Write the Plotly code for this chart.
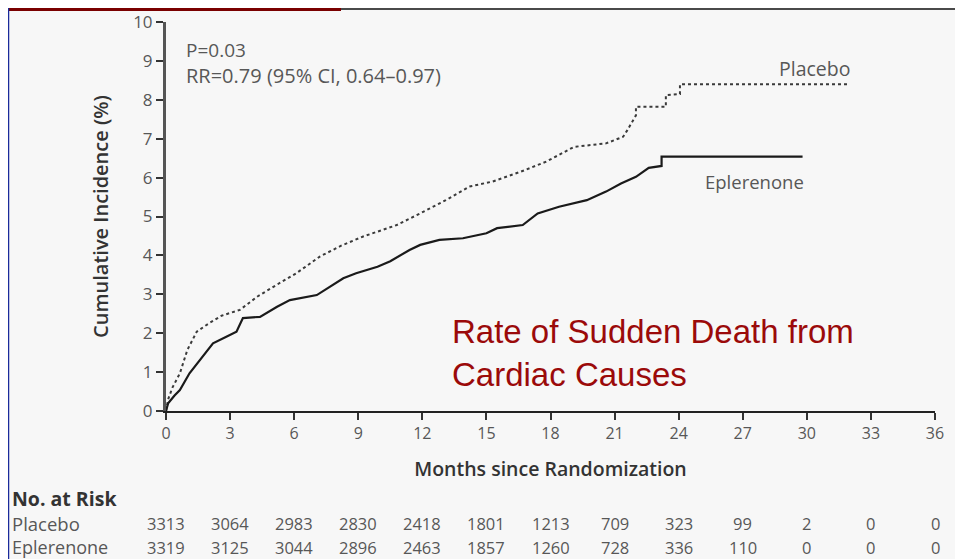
import plotly.graph_objects as go

# ---------------- data ----------------
months_ticks = [0, 3, 6, 9, 12, 15, 18, 21, 24, 27, 30, 33, 36]
y_ticks = [0, 1, 2, 3, 4, 5, 6, 7, 8, 9, 10]

placebo_t = [0, 0.1, 0.3, 0.65, 1.0, 1.44, 2.0, 2.6, 3.46, 4.3, 5.2, 6.1, 7.2, 8.2,
             9.2, 10.0, 10.8, 11.9, 13.1, 14.2, 15.3, 16.6, 17.8, 19.1, 20.6, 21.4,
             21.6, 22.0, 22.0, 23.4, 23.4, 24.06, 24.06, 32.0]
placebo_y = [0, 0.3, 0.6, 0.97, 1.57, 2.04, 2.25, 2.45, 2.6, 2.95, 3.25, 3.54, 3.97, 4.25,
             4.48, 4.62, 4.78, 5.08, 5.42, 5.77, 5.9, 6.15, 6.41, 6.79, 6.88, 7.05,
             7.22, 7.6, 7.82, 7.82, 8.12, 8.15, 8.4, 8.4]

eplerenone_t = [0, 0.1, 0.4, 0.65, 1.1, 1.7, 2.2, 2.8, 3.3, 3.6, 4.4, 5.2, 5.8, 7.06,
                7.7, 8.3, 8.9, 9.9, 10.5, 11.4, 11.9, 12.8, 13.9, 15.0, 15.5, 16.7,
                17.4, 18.4, 19.7, 20.6, 21.3, 22.0, 22.6, 23.2, 23.2, 29.8]
eplerenone_y = [0, 0.2, 0.4, 0.54, 0.97, 1.39, 1.74, 1.9, 2.04, 2.39, 2.42, 2.68, 2.85, 2.98,
                3.2, 3.41, 3.54, 3.71, 3.85, 4.14, 4.27, 4.40, 4.44, 4.57, 4.70, 4.78,
                5.08, 5.25, 5.42, 5.64, 5.85, 6.02, 6.25, 6.30, 6.54, 6.54]

risk_placebo = [3313, 3064, 2983, 2830, 2418, 1801, 1213, 709, 323, 99, 2, 0, 0]
risk_eplerenone = [3319, 3125, 3044, 2896, 2463, 1857, 1260, 728, 336, 110, 0, 0, 0]

# ---------------- layout helpers ----------------
OFF = 8  # page body margin
W, H = 963 - OFF, 559 - OFF
L, R, T, B = 166 - OFF, 28, 22 - OFF, 559 - 411
PW, PH = W - L - R, H - T - B


def px_x(px):
    """page pixel x -> paper coordinate"""
    return (px - OFF - L) / PW


def px_y(py):
    """page pixel y -> paper coordinate"""
    return (H - B - (py - OFF)) / PH


FONT = "Open Sans, sans-serif"
BG = "#f7f7f7"
GREY = "#575757"

fig = go.Figure()
fig.add_trace(go.Scatter(x=placebo_t, y=placebo_y, mode="lines",
                         line=dict(color="#3a3a3a", width=2, dash="dot"),
                         name="Placebo", showlegend=False, hoverinfo="skip"))
fig.add_trace(go.Scatter(x=eplerenone_t, y=eplerenone_y, mode="lines",
                         line=dict(color="#1a1a1a", width=2.2),
                         name="Eplerenone", showlegend=False, hoverinfo="skip"))

annotations = [
    dict(x=px_x(184), y=px_y(50), xref="paper", yref="paper", text="P=0.03", showarrow=False,
         xanchor="left", yanchor="middle", font=dict(size=19, color=GREY, family=FONT)),
    dict(x=px_x(184), y=px_y(75), xref="paper", yref="paper",
         text="RR=0.79 (95% CI, 0.64\u20130.97)",
         showarrow=False, xanchor="left", yanchor="middle",
         font=dict(size=20, color=GREY, family=FONT)),
    dict(x=px_x(852), y=px_y(69), xref="paper", yref="paper", text="Placebo", showarrow=False,
         xanchor="right", yanchor="middle", font=dict(size=19.5, color=GREY, family=FONT)),
    dict(x=px_x(806), y=px_y(181), xref="paper", yref="paper", text="Eplerenone",
         showarrow=False, xanchor="right", yanchor="middle",
         font=dict(size=18.5, color=GREY, family=FONT)),
    dict(x=px_x(450), y=px_y(353), xref="paper", yref="paper",
         text="Rate of Sudden Death from<br>Cardiac Causes", showarrow=False,
         xanchor="left", yanchor="middle", align="left",
         font=dict(size=33, color="#9b0a0a", family="Liberation Sans, Arial, sans-serif")),
    dict(x=px_x(10), y=px_y(498), xref="paper", yref="paper", text="<b>No. at Risk</b>",
         showarrow=False, xanchor="left", yanchor="middle",
         font=dict(size=19.5, color="#333", family=FONT)),
    dict(x=px_x(10), y=px_y(523), xref="paper", yref="paper", text="Placebo",
         showarrow=False, xanchor="left", yanchor="middle",
         font=dict(size=18.5, color=GREY, family=FONT)),
    dict(x=px_x(10), y=px_y(547), xref="paper", yref="paper", text="Eplerenone",
         showarrow=False, xanchor="left", yanchor="middle",
         font=dict(size=18, color=GREY, family=FONT)),
]
for m, a, b in zip(months_ticks, risk_placebo, risk_eplerenone):
    annotations.append(dict(x=m, y=px_y(523), xref="x", yref="paper", text=str(a),
                            showarrow=False, yanchor="middle",
                            font=dict(size=16.5, color=GREY, family=FONT)))
    annotations.append(dict(x=m, y=px_y(547), xref="x", yref="paper", text=str(b),
                            showarrow=False, yanchor="middle",
                            font=dict(size=16.5, color=GREY, family=FONT)))

shapes = [
    # remnants of the source screenshot's border
    dict(type="line", xref="paper", yref="paper", x0=px_x(341), x1=px_x(963),
         y0=px_y(9), y1=px_y(9), line=dict(color="#111", width=1.5)),
    dict(type="rect", xref="paper", yref="paper", x0=px_x(8), x1=px_x(341),
         y0=px_y(8), y1=px_y(11), fillcolor="#7a0000", line=dict(width=0)),
    dict(type="line", xref="paper", yref="paper", x0=px_x(8.5), x1=px_x(8.5),
         y0=px_y(8), y1=px_y(559), line=dict(color="#1a2a9a", width=1.5)),
]

fig.update_layout(
    width=W, height=H,
    margin=dict(l=L, r=R, t=T, b=B),
    paper_bgcolor=BG, plot_bgcolor=BG,
    annotations=annotations, shapes=shapes,
    xaxis=dict(range=[0, 36], tickvals=months_ticks, ticktext=[str(v) for v in months_ticks],
               automargin=False,
               showgrid=False, zeroline=False, showline=True, linecolor="#222", linewidth=2,
               ticks="outside", ticklen=7, tickwidth=1.5, tickcolor="#333",
               tickfont=dict(size=16, color=GREY, family=FONT),
               title=dict(text="Months since Randomization", standoff=19,
                          font=dict(size=19.5, color="#333", family=FONT, weight=600))),
    yaxis=dict(range=[0, 10], tickvals=y_ticks, showgrid=False, zeroline=False,
               automargin=False,
               showline=True, linecolor="#555", linewidth=3,
               ticks="outside", ticklen=7, tickwidth=1.5, tickcolor="#333",
               tickfont=dict(size=17, color=GREY, family=FONT),
               title=dict(text="Cumulative Incidence (%)", standoff=20,
                          font=dict(size=20, color="#333", family=FONT, weight=600))),
)

fig.write_html("out.html")
